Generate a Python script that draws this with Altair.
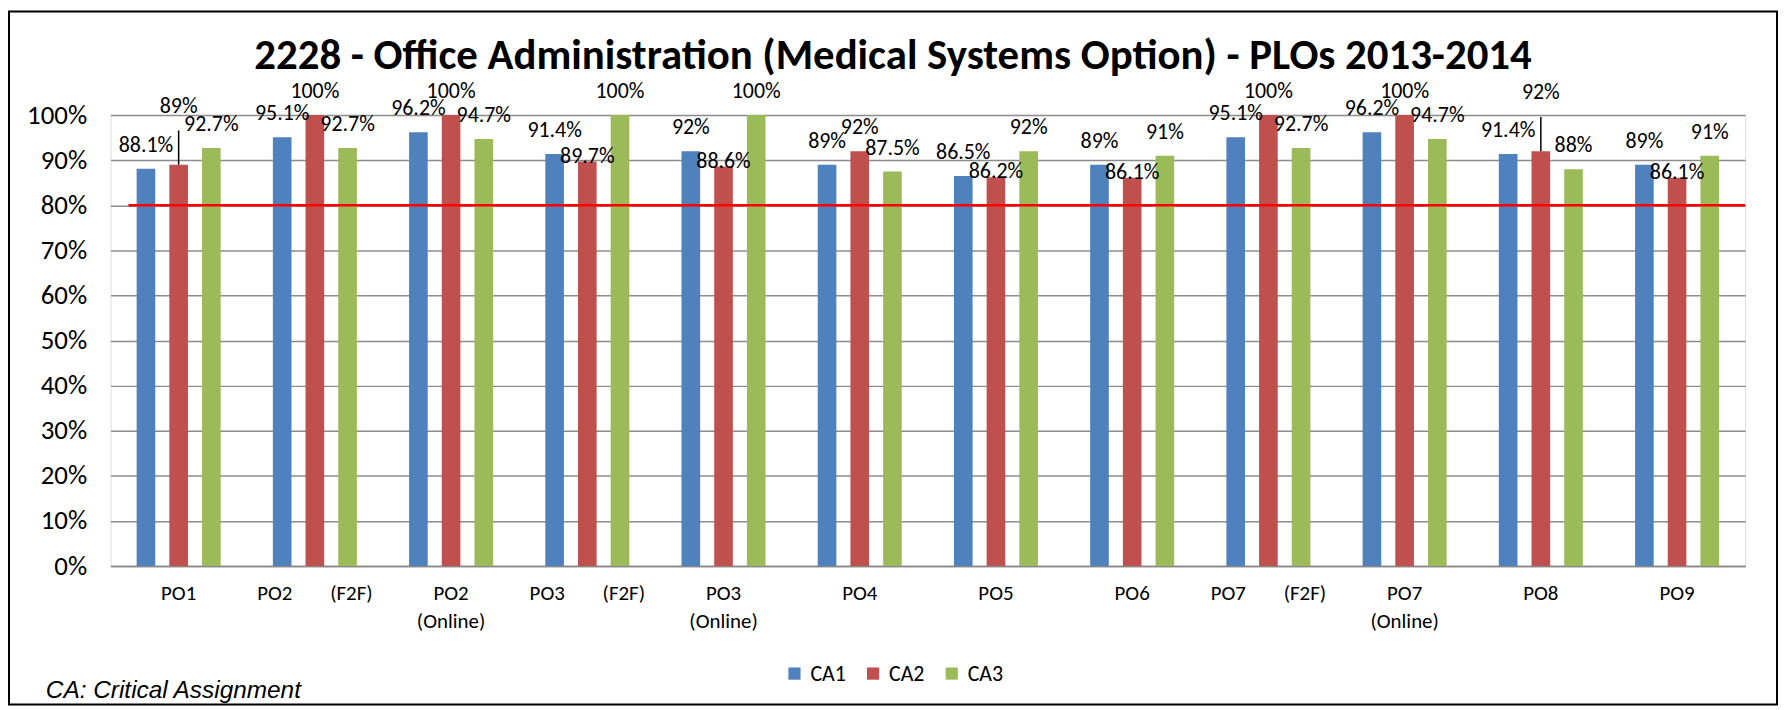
import altair as alt
import pandas as pd

categories = ["PO1", "PO2 (F2F)", "PO2 (Online)", "PO3 (F2F)", "PO3 (Online)", "PO4",
              "PO5", "PO6", "PO7 (F2F)", "PO7 (Online)", "PO8", "PO9"]
series = ["CA1", "CA2", "CA3"]
ca1 = [88.1, 95.1, 96.2, 91.4, 92, 89, 86.5, 89, 95.1, 96.2, 91.4, 89]
ca2 = [89, 100, 100, 89.7, 88.6, 92, 86.2, 86.1, 100, 100, 92, 86.1]
ca3 = [92.7, 92.7, 94.7, 100, 100, 87.5, 92, 91, 92.7, 94.7, 88, 91]
target = 80
y_ticks = [0, 10, 20, 30, 40, 50, 60, 70, 80, 90, 100]
colors = ["#4F81BD", "#C0504D", "#9BBB59"]
title_text = "2228 - Office Administration (Medical Systems Option) - PLOs 2013-2014"
note_text = "CA: Critical Assignment"

rows = []
for s, vals in zip(series, [ca1, ca2, ca3]):
    for i, (c, v) in enumerate(zip(categories, vals)):
        # label placement rule (Excel-like collision avoidance for CA2 labels)
        place = "top"
        if s == "CA2":
            d = v - ca1[i]
            if d < 0:
                place = "low"
            elif d < 1.5:
                place = "lead"
        rows.append({"cat": c, "series": s, "v": v, "label": f"{v:g}%", "place": place})
df = pd.DataFrame(rows)

W, H = 1642, 453
FONT = "Carlito, Calibri, Lato, sans-serif"
NB = "\u00a0"

label_expr = (
    "indexof(datum.label, '(Online)') >= 0 ? split(datum.label, ' ') : "
    "replace(datum.label, ' (F2F)', '" + NB * 8 + "(F2F)')"
)

x_enc = alt.X("cat:N", sort=categories,
              scale=alt.Scale(paddingInner=0.28, paddingOuter=0.14),
              axis=alt.Axis(title=None, labelAngle=0, labelExpr=label_expr,
                            labelFontSize=21, labelFont=FONT, labelColor="#000000",
                            labelPadding=17, labelLineHeight=28, ticks=False,
                            domainColor="#888888", domainWidth=1.5, grid=False))
y_enc = alt.Y("v:Q", scale=alt.Scale(domain=[0, 100], nice=False),
              axis=alt.Axis(title=None, values=y_ticks, labelExpr="datum.value + '%'",
                            labelFontSize=27, labelFont=FONT, labelColor="#000000",
                            labelPadding=24, ticks=False, domain=False,
                            grid=True, gridColor="#8C8C8C", gridWidth=1.5))
xoff = alt.XOffset("series:N", sort=series,
                   scale=alt.Scale(paddingInner=0.43, paddingOuter=0.215))

base = alt.Chart(df)

bars = base.mark_bar().encode(
    x=x_enc, y=y_enc, xOffset=xoff,
    color=alt.Color("series:N", sort=series,
                    scale=alt.Scale(domain=series, range=colors),
                    legend=alt.Legend(title=None, orient="none", direction="horizontal",
                                      legendX=676, legendY=550, symbolType="square",
                                      symbolSize=150, symbolStrokeWidth=0,
                                      labelFontSize=22, labelFont=FONT,
                                      labelColor="#000000", columnPadding=16,
                                      labelOffset=5)),
)

def label_layer(place, dy):
    return base.transform_filter(alt.datum.place == place).mark_text(
        fontSize=22, font=FONT, color="#000000", baseline="alphabetic",
        dy=dy, clip=False
    ).encode(x=alt.X("cat:N", sort=categories), xOffset=xoff,
             y=alt.Y("v:Q"), text="label:N")

labels = label_layer("top", -17) + label_layer("low", 1) + label_layer("lead", -52)

leaders = base.transform_filter(alt.datum.place == "lead").transform_calculate(
    v2="datum.v + 7.6"
).mark_rule(color="#000000", strokeWidth=1.5).encode(
    x=alt.X("cat:N", sort=categories), xOffset=xoff,
    y=alt.Y("v:Q"), y2="v2:Q")

rule = alt.Chart(pd.DataFrame({"t": [target]})).mark_rule(
    color="#FF0000", strokeWidth=2.5
).encode(y="t:Q", x=alt.value(18), x2=alt.value(W))

title = alt.Chart(pd.DataFrame({"txt": [title_text]})).mark_text(
    font=FONT, fontSize=43, fontWeight="bold", align="center",
    baseline="alphabetic", color="#000000", clip=False
).encode(text="txt:N", x=alt.value(786), y=alt.value(-46))

note = alt.Chart(pd.DataFrame({"txt": [note_text]})).mark_text(
    font="Liberation Sans", fontStyle="italic", fontSize=24.5, align="left",
    baseline="middle", color="#000000"
).encode(text="txt:N", x=alt.value(-65), y=alt.value(579))

border = alt.Chart(pd.DataFrame({"b": [1]})).mark_rect(
    filled=False, stroke="#000000", strokeWidth=2, clip=False
).encode(x=alt.value(-102), x2=alt.value(1674), y=alt.value(-104), y2=alt.value(592))

chart = alt.layer(bars, leaders, labels, rule, title, note, border).properties(
    width=W, height=H,
    autosize=alt.AutoSizeParams(type="none"),
    padding={"left": 103, "top": 106, "right": 38, "bottom": 143},
).configure_view(stroke=None).configure(background="#FFFFFF")

chart.save("out.html", embed_options={"renderer": "svg", "actions": False})
